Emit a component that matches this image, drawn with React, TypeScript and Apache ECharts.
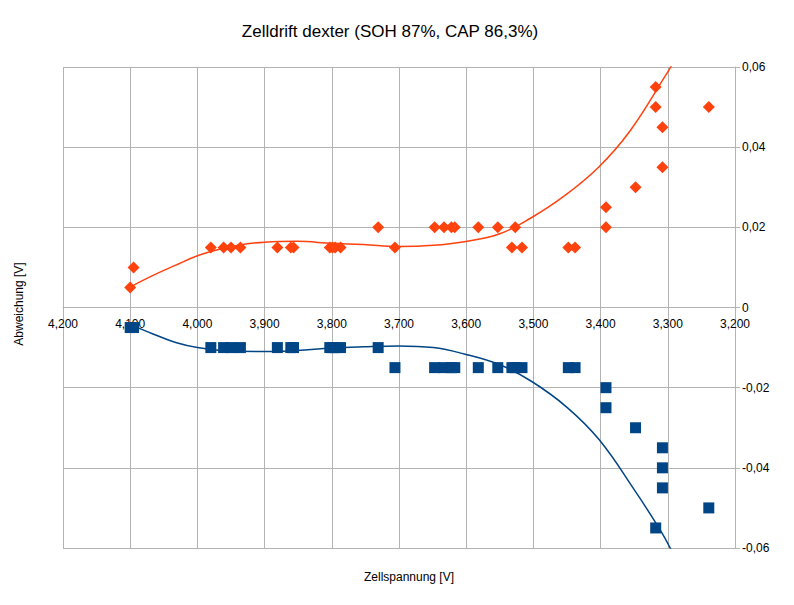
import React, { useEffect, useRef } from "react";
import * as echarts from "echarts";

// Orange series (positive deviation)
const orangeVoltage = [4.100, 4.095, 3.980, 3.961, 3.950, 3.936, 3.881, 3.861, 3.857, 3.803, 3.799, 3.795, 3.787, 3.731, 3.706, 3.647, 3.633, 3.622, 3.617, 3.582, 3.553, 3.532, 3.527, 3.517, 3.448, 3.438, 3.392, 3.392, 3.348, 3.318, 3.318, 3.308, 3.308, 3.239];
const orangeDeviation = [0.005, 0.010, 0.015, 0.015, 0.015, 0.015, 0.015, 0.015, 0.015, 0.015, 0.015, 0.015, 0.015, 0.020, 0.015, 0.020, 0.020, 0.020, 0.020, 0.020, 0.020, 0.015, 0.020, 0.015, 0.015, 0.015, 0.020, 0.025, 0.030, 0.050, 0.055, 0.035, 0.045, 0.050];

// Blue series (negative deviation)
const blueVoltage = [4.100, 4.095, 3.980, 3.961, 3.950, 3.936, 3.881, 3.861, 3.857, 3.803, 3.799, 3.795, 3.787, 3.731, 3.706, 3.647, 3.633, 3.622, 3.617, 3.582, 3.553, 3.532, 3.527, 3.517, 3.448, 3.438, 3.392, 3.392, 3.348, 3.318, 3.308, 3.308, 3.308, 3.239];
const blueDeviation = [-0.005, -0.005, -0.010, -0.010, -0.010, -0.010, -0.010, -0.010, -0.010, -0.010, -0.010, -0.010, -0.010, -0.010, -0.015, -0.015, -0.015, -0.015, -0.015, -0.015, -0.015, -0.015, -0.015, -0.015, -0.015, -0.015, -0.020, -0.025, -0.030, -0.055, -0.035, -0.040, -0.045, -0.050];

// Trend lines
const orangeTrendVoltage = [4.100, 4.066, 4.033, 4.000, 3.966, 3.933, 3.900, 3.852, 3.800, 3.753, 3.701, 3.649, 3.603, 3.550, 3.505, 3.455, 3.403, 3.356, 3.304, 3.290];
const orangeTrendDeviation = [0.0051, 0.0080, 0.0105, 0.0129, 0.0146, 0.0157, 0.0163, 0.0165, 0.0160, 0.0157, 0.0152, 0.0155, 0.0164, 0.0184, 0.0222, 0.0277, 0.0350, 0.0441, 0.0577, 0.0616];
const blueTrendVoltage = [4.100, 4.066, 4.031, 4.000, 3.966, 3.900, 3.852, 3.800, 3.753, 3.701, 3.649, 3.603, 3.550, 3.503, 3.450, 3.402, 3.351, 3.311, 3.294];
const blueTrendDeviation = [-0.0042, -0.0066, -0.0088, -0.0100, -0.0107, -0.0110, -0.0107, -0.0101, -0.0098, -0.0096, -0.0100, -0.0116, -0.0143, -0.0184, -0.0249, -0.0330, -0.0452, -0.0556, -0.0608];

const xTicksMin = 3.2;
const xTicksMax = 4.2;
const yTicksMin = -0.06;
const yTicksMax = 0.06;

const titleText = "Zelldrift dexter (SOH 87%, CAP 86,3%)";
const xAxisTitle = "Zellspannung [V]";
const yAxisTitle = "Abweichung [V]";

const ORANGE = "#ff420e";
const BLUE = "#004586";
const GRID = "#b3b3b3";
const FONT = "Liberation Sans, Arial, sans-serif";

const GRID_TOP = 67;
const GRID_BOTTOM = 57;
const CHART_H = 605;

const zip = (xs: number[], ys: number[]) => xs.map((x, i) => [x, ys[i]]);

export default function App() {
  const ref = useRef<HTMLDivElement>(null);
  useEffect(() => {
    if (!ref.current) return;
    const chart = echarts.init(ref.current, undefined, { renderer: "svg" });
    // x axis labels sit on the zero line (middle of the plot, since y range is symmetric)
    const plotH = CHART_H - GRID_TOP - GRID_BOTTOM;
    const zeroOffset = -plotH * (0 - yTicksMin) / (yTicksMax - yTicksMin);
    chart.setOption({
      animation: false,
      backgroundColor: "#ffffff",
      textStyle: { fontFamily: FONT },
      grid: { left: 63, right: 59, top: GRID_TOP, bottom: GRID_BOTTOM, containLabel: false },
      xAxis: {
        type: "value",
        min: xTicksMin,
        max: xTicksMax,
        interval: 0.1,
        inverse: true,
        position: "bottom",
        offset: zeroOffset,
        axisLine: { show: true, onZero: false, lineStyle: { color: GRID } },
        axisTick: { show: false },
        axisLabel: {
          color: "#000",
          fontSize: 12,
          fontFamily: FONT,
          margin: 10,
          showMinLabel: true,
          showMaxLabel: true,
          formatter: (v: number) => v.toFixed(3).replace(".", ","),
        },
        splitLine: { show: true, lineStyle: { color: GRID, width: 1 } },
      },
      yAxis: {
        type: "value",
        position: "right",
        min: yTicksMin,
        max: yTicksMax,
        interval: 0.02,
        axisLine: { show: true, onZero: false, lineStyle: { color: GRID } },
        axisTick: { show: true, length: 5, inside: false, lineStyle: { color: GRID } },
        axisLabel: {
          color: "#000",
          fontSize: 12,
          fontFamily: FONT,
          margin: 7,
          formatter: (v: number) => (Math.abs(v) < 1e-9 ? "0" : v.toFixed(2).replace(".", ",")),
        },
        splitLine: { show: true, lineStyle: { color: GRID, width: 1 } },
      },
      graphic: [
        {
          type: "text",
          x: 390,
          y: 31,
          style: { text: titleText, fontSize: 17, fontFamily: FONT, fill: "#000", align: "center", verticalAlign: "middle" },
        },
        {
          type: "text",
          x: 409,
          y: 577,
          style: { text: xAxisTitle, fontSize: 12, fontFamily: FONT, fill: "#000", align: "center", verticalAlign: "middle" },
        },
        {
          type: "text",
          x: 19,
          y: 304,
          rotation: Math.PI / 2,
          style: { text: yAxisTitle, fontSize: 12, fontFamily: FONT, fill: "#000", align: "center", verticalAlign: "middle" },
        },
      ],
      series: [
        {
          type: "line",
          data: zip(blueTrendVoltage, blueTrendDeviation),
          smooth: 0.4,
          showSymbol: false,
          clip: true,
          lineStyle: { color: BLUE, width: 1.5 },
          z: 2,
        },
        {
          type: "line",
          data: zip(orangeTrendVoltage, orangeTrendDeviation),
          smooth: 0.4,
          showSymbol: false,
          clip: true,
          lineStyle: { color: ORANGE, width: 1.5 },
          z: 2,
        },
        {
          type: "scatter",
          data: zip(blueVoltage, blueDeviation),
          symbol: "rect",
          symbolSize: 11,
          itemStyle: { color: BLUE, opacity: 1 },
          z: 3,
        },
        {
          type: "scatter",
          data: zip(orangeVoltage, orangeDeviation),
          symbol: "diamond",
          symbolSize: 12,
          itemStyle: { color: ORANGE, opacity: 1 },
          z: 3,
        },
      ],
    });
    return () => chart.dispose();
  }, []);
  return <div ref={ref} style={{ width: 794, height: 605, position: "absolute", left: 0, top: 0 }} />;
}
